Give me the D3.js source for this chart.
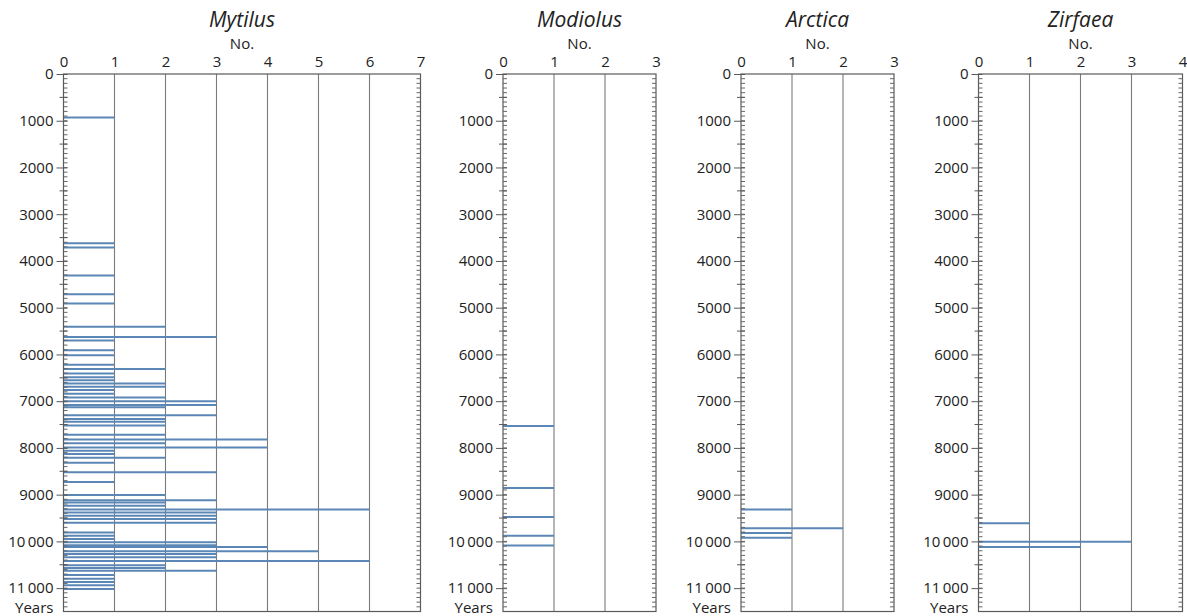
<!DOCTYPE html>
<html>
<head>
<meta charset="utf-8">
<script src="https://cdn.jsdelivr.net/npm/d3@7"></script>
<style>
  body { margin: 0; background: #fff; }
  text { font-family: "Open Sans", "Noto Sans", sans-serif; fill: #222; }
</style>
</head>
<body>
<div id="my_dataviz"></div>
<script>
// years (BP) and number of shells for each sample
const mytilusYears = [930, 3620, 3710, 4310, 4710, 4910, 5410, 5625, 5700, 5910,
  6020, 6220, 6310, 6410, 6490, 6550, 6620, 6690, 6760, 6840, 6920,
  7000, 7080, 7130, 7300, 7380, 7440, 7520, 7720, 7820, 7900, 7990,
  8060, 8130, 8210, 8320, 8520, 8730,
  9010, 9120, 9170, 9240, 9320, 9380, 9450, 9520, 9600,
  9810, 9880, 9950, 10020, 10080, 10120, 10210, 10270, 10340, 10420,
  10510, 10570, 10630, 10720, 10800, 10870, 10940, 11020];
const mytilusCounts = [1, 1, 1, 1, 1, 1, 2, 3, 1, 1,
  1, 1, 2, 1, 1, 1, 2, 2, 1, 1, 2,
  3, 3, 2, 3, 2, 2, 2, 2, 4, 2, 4,
  1, 1, 2, 1, 3, 1,
  2, 3, 2, 2, 6, 3, 3, 3, 3,
  1, 1, 1, 3, 3, 4, 5, 3, 3, 6,
  2, 2, 3, 1, 1, 1, 1, 1];

const modiolusYears = [7530, 8860, 9480, 9880, 10090];
const modiolusCounts = [1, 1, 1, 1, 1];

const arcticaYears = [9320, 9720, 9820, 9920];
const arcticaCounts = [1, 2, 1, 1];

const zirfaeaYears = [9610, 10010, 10120];
const zirfaeaCounts = [1, 3, 2];

const yearTicks = [0, 1000, 2000, 3000, 4000, 5000, 6000, 7000, 8000, 9000, 10000, 11000];
const yearMax = 11500;

const panels = [
  {name: "Mytilus", years: mytilusYears, counts: mytilusCounts, maxNo: 7, left: 63.5},
  {name: "Modiolus", years: modiolusYears, counts: modiolusCounts, maxNo: 3, left: 503},
  {name: "Arctica", years: arcticaYears, counts: arcticaCounts, maxNo: 3, left: 741},
  {name: "Zirfaea", years: zirfaeaYears, counts: zirfaeaCounts, maxNo: 4, left: 978.5}
];

var width = 1187, height = 616;
var unit = 51;   // px per shell
var plotTop = 74, plotBottom = 611.5;

var svg = d3.select("#my_dataviz")
  .append("svg")
  .attr("width", width)
  .attr("height", height);

var y = d3.scaleLinear().domain([0, yearMax]).range([plotTop, plotBottom]);

function fmtYear(d) {
  return d >= 10000 ? Math.floor(d / 1000) + "\u2009000" : String(d);
}

function drawPanel(p) {
  var x = d3.scaleLinear().domain([0, p.maxNo]).range([p.left, p.left + p.maxNo * unit]);
  var g = svg.append("g");
  var x0 = x(0), x1 = x(p.maxNo);

  // vertical grid lines
  g.selectAll(".grid")
    .data(d3.range(1, p.maxNo))
    .enter().append("line")
    .attr("x1", d => x(d)).attr("x2", d => x(d))
    .attr("y1", plotTop).attr("y2", plotBottom)
    .attr("stroke", "#7a7a7a").attr("stroke-width", 1.1);

  // sample lines
  var data = p.years.map((yr, i) => ({year: yr, n: p.counts[i]}));
  g.selectAll(".sample")
    .data(data)
    .enter().append("line")
    .attr("x1", x(0)).attr("x2", d => x(d.n))
    .attr("y1", d => y(d.year)).attr("y2", d => y(d.year))
    .attr("stroke", "#5b87b6").attr("stroke-width", 2);

  // frame
  g.append("rect")
    .attr("x", x0).attr("y", plotTop)
    .attr("width", x1 - x0).attr("height", plotBottom - plotTop)
    .attr("fill", "none").attr("stroke", "#5a5a5a").attr("stroke-width", 1.2);

  // top axis
  var xa = g.append("g")
    .attr("transform", "translate(0," + plotTop + ")")
    .call(d3.axisTop(x).ticks(p.maxNo).tickSize(0).tickPadding(7));
  xa.select(".domain").remove();
  xa.selectAll("text").style("font-size", "15px").attr("fill", "#222");

  // left axis, major ticks with labels
  var ya = g.append("g")
    .attr("transform", "translate(" + x0 + ",0)")
    .call(d3.axisLeft(y).tickValues(yearTicks).tickSize(7).tickPadding(3).tickFormat(fmtYear));
  ya.select(".domain").remove();
  ya.selectAll("line").attr("stroke", "#5a5a5a").attr("x2", -7).attr("x1", 4);
  ya.selectAll("text").style("font-size", "15px").attr("fill", "#222");

  // minor ticks inside, both sides
  var minor = d3.range(100, yearMax, 100);
  var half = d3.range(500, yearMax, 1000);
  [[x0, 1], [x1, -1]].forEach(function(side) {
    g.selectAll(null)
      .data(minor)
      .enter().append("line")
      .attr("x1", side[0]).attr("x2", side[0] + side[1] * 4)
      .attr("y1", d => y(d)).attr("y2", d => y(d))
      .attr("stroke", "#666").attr("stroke-width", 1);
  });
  g.selectAll(null)
    .data(half)
    .enter().append("line")
    .attr("x1", x0 - 4).attr("x2", x0 + 4)
    .attr("y1", d => y(d)).attr("y2", d => y(d))
    .attr("stroke", "#5a5a5a").attr("stroke-width", 1);

  g.append("text")
    .attr("x", x0 - 10).attr("y", 613)
    .attr("text-anchor", "end")
    .style("font-size", "15px")
    .text("Years");

  g.append("text")
    .attr("x", (x0 + x1) / 2).attr("y", 49)
    .attr("text-anchor", "middle")
    .style("font-size", "15px")
    .text("No.");

  g.append("text")
    .attr("x", (x0 + x1) / 2).attr("y", 27)
    .attr("text-anchor", "middle")
    .style("font-size", "21px")
    .style("font-style", "italic")
    .text(p.name);
}

panels.forEach(drawPanel);
</script>
</body>
</html>
